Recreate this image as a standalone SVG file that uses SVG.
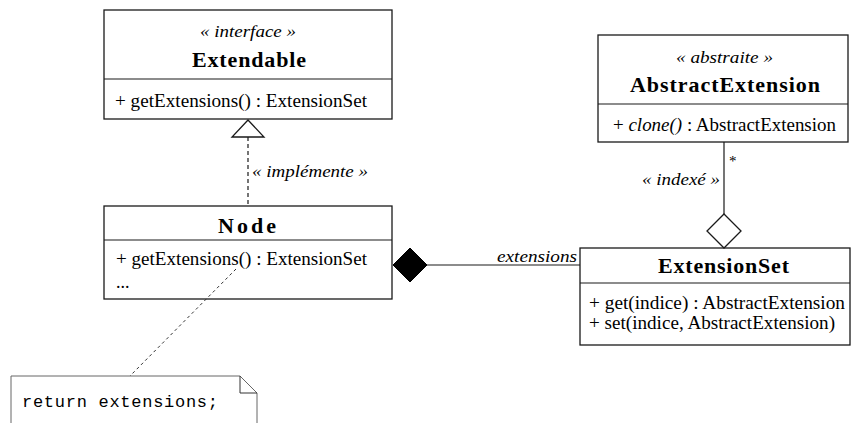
<svg xmlns="http://www.w3.org/2000/svg" width="861" height="423" viewBox="0 0 861 423">
<style>
.box{fill:#fff;stroke:#1a1a1a;stroke-width:1.3}
.ln{fill:none;stroke:#1a1a1a;stroke-width:1.2}
.t{font-family:"Liberation Serif","Times New Roman",serif;fill:#000}
.st{font-size:17px;font-style:italic}
.ti{font-size:22px;font-weight:bold}
.op{font-size:18px}
.lb{font-size:17px;font-style:italic}
.mono{font-family:"Liberation Mono","Courier New",monospace;font-size:17px;fill:#000}
</style>
<rect width="861" height="423" fill="#fff"/>
<g id="extendable">
  <rect class="box" x="104" y="10" width="288" height="109"/>
  <line class="ln" x1="104" y1="79" x2="392" y2="79"/>
  <text class="t st" x="200" y="37" textLength="96" lengthAdjust="spacingAndGlyphs">« interface »</text>
  <text class="t ti" x="192" y="67" textLength="114" lengthAdjust="spacing">Extendable</text>
  <text class="t op" x="115" y="107" textLength="252" lengthAdjust="spacingAndGlyphs">+ getExtensions() : ExtensionSet</text>
</g>
<g id="abstractextension">
  <rect class="box" x="598" y="35" width="250" height="107"/>
  <line class="ln" x1="598" y1="104" x2="848" y2="104"/>
  <text class="t st" x="676" y="63" textLength="97" lengthAdjust="spacingAndGlyphs">« abstraite »</text>
  <text class="t ti" x="630" y="92" textLength="190" lengthAdjust="spacing">AbstractExtension</text>
  <text class="t op" x="613" y="131" textLength="223" lengthAdjust="spacingAndGlyphs">+ <tspan font-style="italic">clone()</tspan> : AbstractExtension</text>
</g>
<g id="node">
  <rect class="box" x="104" y="206" width="288" height="93"/>
  <line class="ln" x1="104" y1="240" x2="392" y2="240"/>
  <text class="t ti" x="218" y="233" textLength="58" lengthAdjust="spacing">Node</text>
  <text class="t op" x="116" y="265" textLength="251" lengthAdjust="spacingAndGlyphs">+ getExtensions() : ExtensionSet</text>
  <text class="t op" x="116" y="288">...</text>
</g>
<g id="extensionset">
  <rect class="box" x="580" y="248" width="270" height="97"/>
  <line class="ln" x1="580" y1="283" x2="850" y2="283"/>
  <text class="t ti" x="658" y="273" textLength="131" lengthAdjust="spacing">ExtensionSet</text>
  <text class="t op" x="589" y="309" textLength="256" lengthAdjust="spacingAndGlyphs">+ get(indice) : AbstractExtension</text>
  <text class="t op" x="589" y="329" textLength="246" lengthAdjust="spacingAndGlyphs">+ set(indice, AbstractExtension)</text>
</g>
<g id="note">
  <path d="M11,430 V376 H240 L257,393 V430" fill="#fff" stroke="#666" stroke-width="1"/>
  <path d="M240,376 V393 H257" fill="none" stroke="#333" stroke-width="1"/>
  <text class="mono" x="22" y="407" textLength="196" lengthAdjust="spacing">return extensions;</text>
</g>
<g id="connectors">
  <line class="ln" x1="248" y1="137" x2="248" y2="206" stroke-dasharray="4 3"/>
  <polygon class="box" points="248,120 232,137 264,137"/>
  <text class="t lb" x="252" y="177" textLength="116" lengthAdjust="spacingAndGlyphs">« implémente »</text>
  <line class="ln" x1="427" y1="265" x2="580" y2="265"/>
  <polygon points="393,265 410,248 427,265 410,282" fill="#000" stroke="#000" stroke-width="1"/>
  <text class="t lb" x="497" y="262" textLength="80" lengthAdjust="spacingAndGlyphs">extensions</text>
  <line class="ln" x1="724" y1="142" x2="724" y2="214"/>
  <polygon class="box" points="724,214 741,231 724,248 707,231"/>
  <text class="t" x="729" y="166" font-size="15">*</text>
  <text class="t lb" x="642" y="185" textLength="78" lengthAdjust="spacingAndGlyphs">« indexé »</text>
  <line x1="236" y1="269" x2="130" y2="376" stroke="#333" stroke-width="1" stroke-dasharray="3 3"/>
</g>
</svg>
